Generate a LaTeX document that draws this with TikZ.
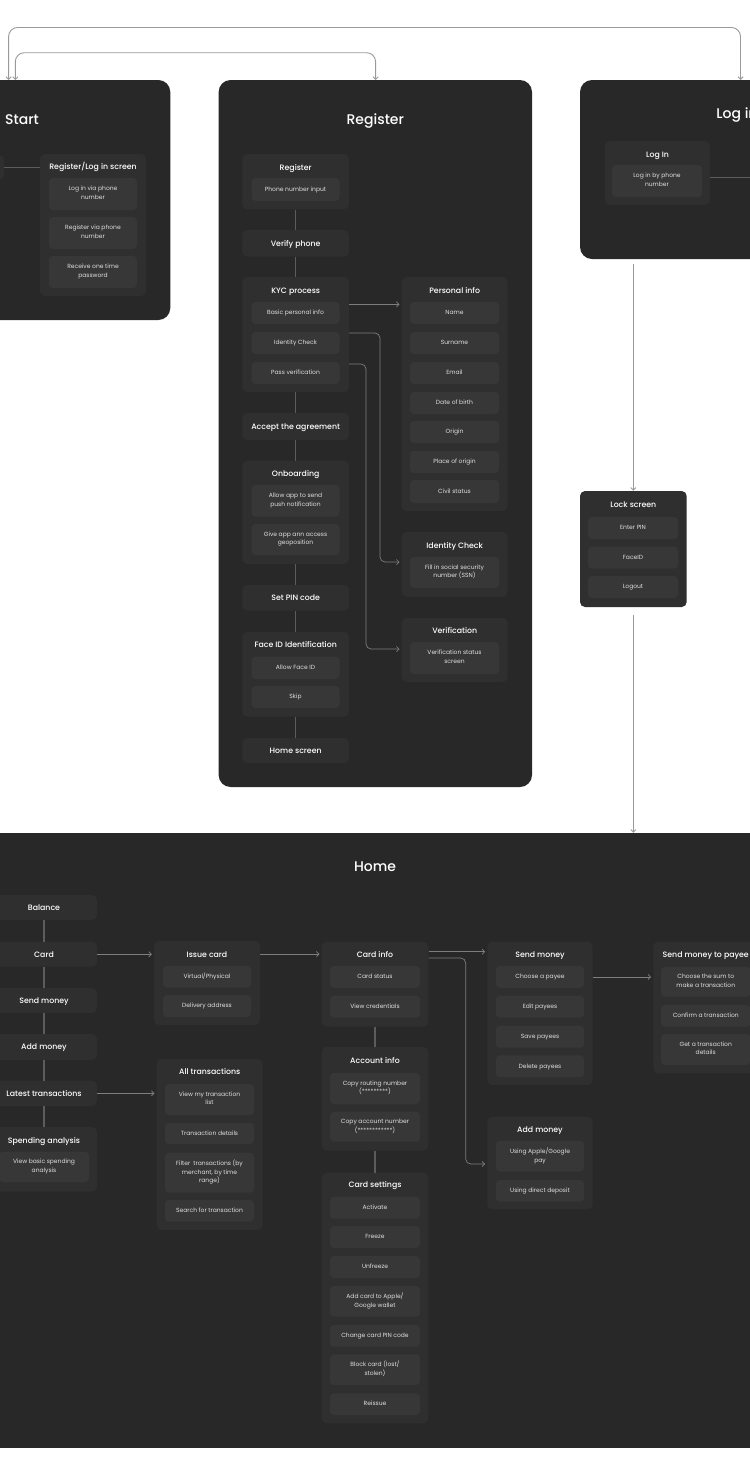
\documentclass[tikz,border=0pt]{standalone}
\usepackage{fontspec}
\setmainfont{Poppins}
\IfFontExistsTF{Poppins Medium}{\newfontfamily\pmed{Poppins Medium}}{\newfontfamily\pmed{Poppins}[FakeBold=0.4]}
\usetikzlibrary{arrows.meta,fit,calc}
\definecolor{panelc}{HTML}{282828}
\definecolor{grpc}{HTML}{2F2F2F}
\definecolor{itmc}{HTML}{373737}
\definecolor{itxtc}{HTML}{E0E0E0}
\definecolor{linec}{HTML}{5C5C5C}
\definecolor{arrc}{HTML}{7E7E7E}
\definecolor{oarrc}{HTML}{9A9A9A}
\tikzset{
  panel/.style={fill=panelc, draw=none, rounded corners=12pt, inner sep=0pt},
  grp/.style={fill=grpc, draw=none, rounded corners=5pt, inner sep=0pt},
  itm/.style={fill=itmc, draw=none, rounded corners=4pt, inner sep=0pt},
  ptitle/.style={text=white, inner sep=0pt, font=\pmed\fontsize{14}{16}\selectfont, text height=10pt, text depth=0pt},
  gtitle/.style={text=white, inner sep=0pt, font=\pmed\fontsize{7.8}{10}\selectfont, text height=5.6pt, text depth=0pt},
  itxt/.style={text=itxtc, inner sep=0pt, align=center, font=\fontsize{6}{8.8}\selectfont,
     execute at begin node=\strut, execute at end node=\strut},
  vline/.style={draw=linec, line width=1.2pt},
  tline/.style={draw=linec, line width=0.8pt},
  barb/.tip={Straight Barb[length=2.6pt,width=5.2pt]},
  arr/.style={draw=arrc, line width=0.7pt, -barb, shorten >=2pt},
  rarr/.style={draw=arrc, line width=0.7pt, -barb, rounded corners=5pt, shorten >=2pt},
  oarr/.style={draw=oarrc, line width=0.9pt, barb-barb, rounded corners=9pt},
  oarrs/.style={draw=oarrc, line width=0.9pt, -barb}
}
\newcommand{\gbox}[5]{\node[grp, fit={(#2,#3) (#4,#5)}] (#1) {};}
\newcommand{\ibox}[6]{\node[itm, fit={(#2,#3) (#4,#5)}] (#1) {}; \node[itxt] (#1t) at (#1.center) {#6};}
\newcommand{\tbox}[6]{\node[grp, fit={(#2,#3) (#4,#5)}] (#1) {}; \node[gtitle] (#1t) at (#1.center) {#6};}
\newcommand{\gtit}[4]{\node[gtitle] (#1) at (#2,#3) {#4};}
\begin{document}
\begin{tikzpicture}[x=1pt,y=-1pt]
\useasboundingbox (0,0) rectangle (750,1476);
\clip (0,0) rectangle (750,1476);
\fill[white] (0,0) rectangle (750,1476);

% ---------- panels ----------
\node[panel, fit={(-144,80) (170.3,320)}] (start) {};
\node[ptitle] (startt) at (22,119) {Start};
\node[panel, fit={(218.6,80) (532,787)}] (reg) {};
\node[ptitle] (regt) at (375.3,119) {Register};
\node[panel, fit={(580,80) (894,259)}] (login) {};
\node[ptitle] (logint) at (737,113) {Log in};
\node[panel, rounded corners=0pt, fit={(-20,833) (770,1448)}] (home) {};
\node[ptitle] (homet) at (375,866.7) {Home};

% ---------- top connectors ----------
\coordinate (sA) at (8.6,80);
\coordinate (sB) at (15.3,80);
\coordinate (lA) at (740.5,80);
\coordinate (rA) at (375.6,80);
\draw[oarr] (sA) -- (sA |- 0,27.5) -- (lA |- 0,27.5) -- (lA);
\draw[oarr] (sB) -- (sB |- 0,52.7) -- (rA |- 0,52.7) -- (rA);

% ---------- Start ----------
\gbox{sl}{-60}{155}{4}{180}
\gbox{rls}{40}{154}{146}{296}
\gtit{rlst}{93}{167}{Register/Log in screen}
\ibox{rlsa}{49}{178}{137}{210}{Log in via phone\\number}
\ibox{rlsb}{49}{217}{137}{249}{Register via phone\\number}
\ibox{rlsc}{49}{256}{137}{288}{Receive one time\\password}
\draw[tline] (sl.east) -- (sl.east -| rls.west);

% ---------- Log in ----------
\gbox{li}{605}{141}{710}{205}
\gtit{lit}{657.5}{154.3}{Log In}
\ibox{lia}{612}{165}{702}{197}{Log in by phone\\number}
\coordinate (liout) at (760,177.7);
\draw[tline] (li.east |- liout) -- (liout);

% ---------- Lock screen ----------
\gbox{lock}{580}{491}{686.7}{607}
\gtit{lockt}{633.3}{505}{Lock screen}
\ibox{locka}{588}{517}{678}{539}{Enter PIN}
\ibox{lockb}{588}{546.6}{678}{568.6}{FaceID}
\ibox{lockc}{588}{576}{678}{598}{Logout}
\draw[oarrs, shorten <=5pt] (lock.north |- login.south) -- (lock.north);
\draw[oarrs, shorten <=8pt] (lock.south) -- (lock.south |- home.north);

% ---------- Register ----------
\gbox{rg}{242.3}{154}{349}{209.3}
\gtit{rgt}{295.7}{167.3}{Register}
\ibox{rga}{251.5}{178}{339.5}{201}{Phone number input}
\tbox{vp}{242.3}{230}{349}{256.7}{Verify phone}
\gbox{kyc}{242.3}{277}{349}{392}
\gtit{kyct}{295.7}{290.7}{KYC process}
\ibox{kyca}{251.5}{302}{339.5}{324}{Basic personal info}
\ibox{kycb}{251.5}{332}{339.5}{354}{Identity Check}
\ibox{kycc}{251.5}{362}{339.5}{384}{Pass verification}
\tbox{acc}{242.3}{413}{349}{440}{Accept the agreement}
\gbox{onb}{242.3}{460.7}{349}{564}
\gtit{onbt}{295.7}{473.7}{Onboarding}
\ibox{onba}{251.5}{485}{339.5}{516.7}{Allow app to send\\push notification}
\ibox{onbb}{251.5}{524}{339.5}{555}{Give app ann access\\geoposition}
\tbox{pin}{242.3}{585}{349}{610.7}{Set PIN code}
\gbox{fid}{242.3}{632}{349}{716.7}
\gtit{fidt}{295.7}{645}{Face ID Identification}
\ibox{fida}{251.5}{656.7}{339.5}{679}{Allow Face ID}
\ibox{fidb}{251.5}{686}{339.5}{708}{Skip}
\tbox{hs}{242.3}{738}{349}{763}{Home screen}

\gbox{pinf}{401.7}{277}{507.7}{511}
\gtit{pinft}{454.7}{290.7}{Personal info}
\ibox{pia}{410}{302}{499}{324}{Name}
\ibox{pib}{410}{332}{499}{354}{Surname}
\ibox{pic}{410}{362}{499}{384}{Email}
\ibox{pid}{410}{392}{499}{414}{Date of birth}
\ibox{pie}{410}{421}{499}{443}{Origin}
\ibox{pif}{410}{451}{499}{473}{Place of origin}
\ibox{pig}{410}{480}{499}{503}{Civil status}
\gbox{idc}{401.7}{532}{507.7}{597}
\gtit{idct}{454.7}{545.7}{Identity Check}
\ibox{idca}{410}{557}{499}{588}{Fill in social security\\number (SSN)}
\gbox{ver}{401.7}{618}{507.7}{682}
\gtit{vert}{454.7}{631}{Verification}
\ibox{vera}{410}{642}{499}{674}{Verification status\\screen}

\draw[vline] (rg) -- (vp);
\draw[vline] (vp) -- (kyc);
\draw[vline] (kyc) -- (acc);
\draw[vline] (acc) -- (onb);
\draw[vline] (onb) -- (pin);
\draw[vline] (pin) -- (fid);
\draw[vline] (fid) -- (hs);
\draw[arr] (kyc.east |- 0,304.3) -- (pinf.west |- 0,304.3);
\draw[rarr] (kyc.east |- 0,333) -- (380,333) -- (380,562) -- (idc.west |- 0,562);
\draw[rarr] (kyc.east |- 0,364) -- (366,364) -- (366,649) -- (ver.west |- 0,649);

% ---------- Home ----------
\tbox{bal}{-9}{895}{97}{920}{Balance}
\tbox{card}{-9}{941.7}{97}{966.7}{Card}
\tbox{sndm}{-9}{988}{97}{1013}{Send money}
\tbox{addm}{-9}{1034}{97}{1060}{Add money}
\tbox{ltx}{-9}{1080.7}{97}{1106}{Latest transactions}
\gbox{spa}{-9}{1127}{97}{1191.7}
\gtit{spat}{44}{1140.7}{Spending analysis}
\ibox{spaa}{-1}{1151.7}{89}{1182}{View basic spending\\analysis}
\draw[vline] (bal) -- (card);
\draw[vline] (card) -- (sndm);
\draw[vline] (sndm) -- (addm);
\draw[vline] (addm) -- (ltx);
\draw[vline] (ltx) -- (spa);

\gbox{isc}{154}{941}{260}{1025}
\gtit{isct}{207}{954.3}{Issue card}
\ibox{isca}{163}{966}{251}{987.7}{Virtual/Physical}
\ibox{iscb}{163}{995}{251}{1017}{Delivery address}

\gbox{atx}{156.7}{1059}{262.7}{1230}
\gtit{atxt}{209.7}{1072}{All transactions}
\ibox{atxa}{165}{1084}{254}{1115}{View my transaction\\list}
\ibox{atxb}{165}{1123}{254}{1144}{Transaction details}
\ibox{atxc}{165}{1152.7}{254}{1192.7}{Filter\ \ transactions (by\\merchant, by time\\range)}
\ibox{atxd}{165}{1200}{254}{1221.7}{Search for transaction}

\gbox{cinf}{321.7}{941.7}{428.3}{1026.7}
\gtit{cinft}{375}{954.3}{Card info}
\ibox{cinfa}{330}{966}{420}{988}{Card status}
\ibox{cinfb}{330}{995.7}{420}{1017.7}{View credentials}

\gbox{ainf}{321.7}{1047}{428.3}{1150.7}
\gtit{ainft}{375}{1060.7}{Account info}
\ibox{ainfa}{330}{1073}{420}{1104}{Copy routing number\\(*********)}
\ibox{ainfb}{330}{1111.7}{420}{1141.7}{Copy account number\\(************)}

\gbox{cset}{321.7}{1172.7}{428.3}{1423.3}
\gtit{csett}{375}{1185}{Card settings}
\ibox{cseta}{330}{1196.7}{420}{1218.7}{Activate}
\ibox{csetb}{330}{1226}{420}{1248}{Freeze}
\ibox{csetc}{330}{1256}{420}{1278}{Unfreeze}
\ibox{csetd}{330}{1286}{420}{1316.7}{Add card to Apple/\\Google wallet}
\ibox{csete}{330}{1325}{420}{1346.7}{Change card PIN code}
\ibox{csetf}{330}{1354.3}{420}{1385}{Block card (lost/\\stolen)}
\ibox{csetg}{330}{1393.3}{420}{1415}{Reissue}

\gbox{smon}{487.3}{941.7}{592.7}{1085}
\gtit{smont}{540}{954.7}{Send money}
\ibox{smona}{496}{966}{584}{988}{Choose a payee}
\ibox{smonb}{496}{995.7}{584}{1017.7}{Edit payees}
\ibox{smonc}{496}{1025.7}{584}{1047.7}{Save payees}
\ibox{smond}{496}{1055.3}{584}{1077.3}{Delete payees}

\gbox{amon}{487.3}{1116.7}{592.7}{1209.3}
\gtit{amont}{540}{1129.3}{Add money}
\ibox{amona}{496}{1140.7}{584}{1171.7}{Using Apple/Google\\pay}
\ibox{amonb}{496}{1180}{584}{1201.7}{Using direct deposit}

\gbox{pay}{653.3}{941.7}{759}{1073.3}
\gtit{payt}{705.7}{955}{Send money to payee}
\ibox{paya}{661}{966.7}{750.5}{996.7}{Choose the sum to\\make a transaction}
\ibox{payb}{661}{1005}{750.5}{1026.7}{Confirm a transaction}
\ibox{payc}{661}{1034}{750.5}{1065}{Get a transaction\\details}

\draw[arr] (card.east) -- (isc.west |- card.east);
\draw[arr] (isc.east |- 0,954) -- (cinf.west |- 0,954);
\draw[arr] (ltx.east) -- (atx.west |- ltx.east);
\draw[vline] (cinf) -- (ainf);
\draw[vline] (ainf) -- (cset);
\draw[arr] (cinf.east |- 0,951.7) -- (smon.west |- 0,951.7);
\draw[rarr] (cinf.east |- 0,958) -- (465.7,958) -- (465.7,1164) -- (amon.west |- 0,1164);
\draw[arr] (smon.east |- 0,977) -- (pay.west |- 0,977);
\end{tikzpicture}
\end{document}
